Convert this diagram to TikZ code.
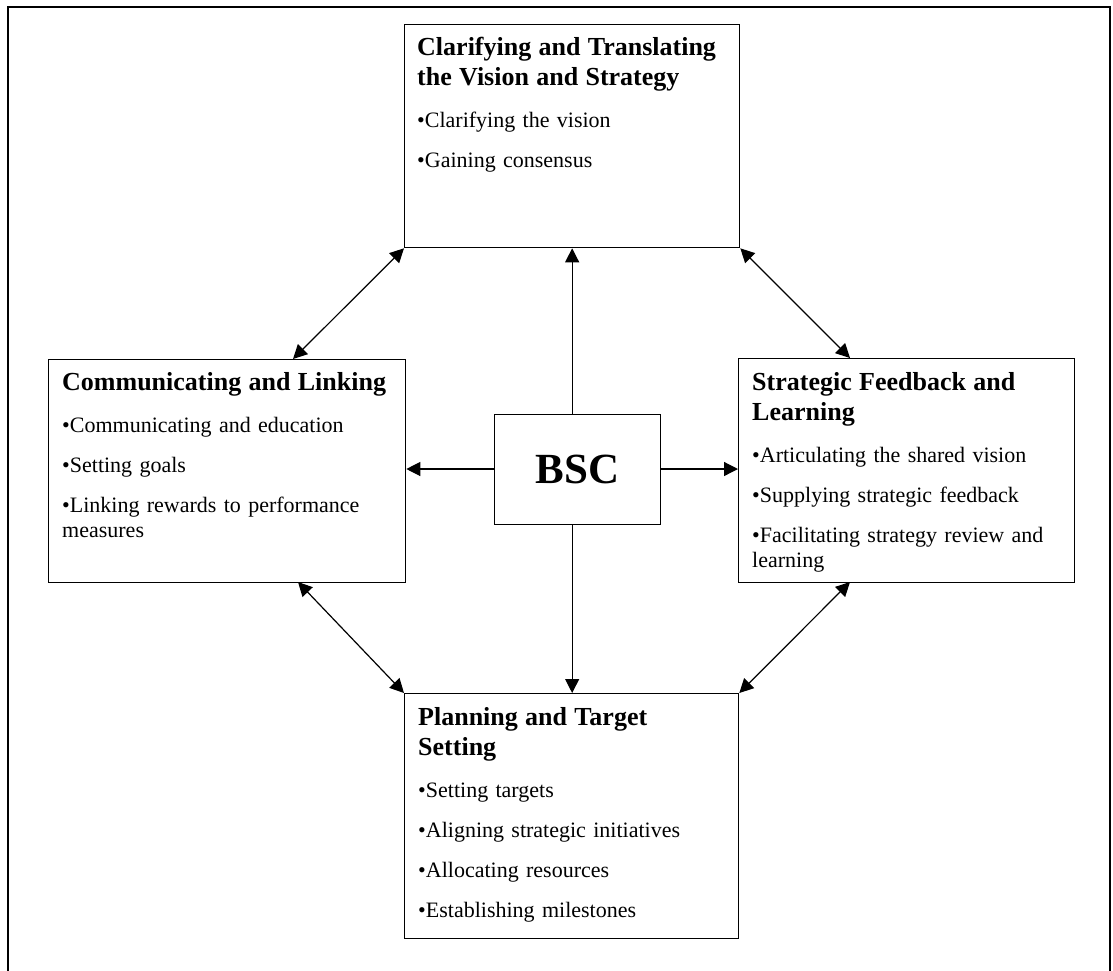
\documentclass[tikz,border=0pt]{standalone}
\usepackage{fontspec}
\setmainfont{Liberation Serif}
\usetikzlibrary{arrows.meta}
\setlength\parindent{0pt}
\begin{document}
\begin{tikzpicture}[x=1pt,y=-1pt,
  panel/.style={draw, line width=1.3pt, anchor=north west, inner sep=0pt},
  blurb/.style={anchor=base west, inner sep=0pt, text width=340pt, align=left,
    font=\fontsize{22}{25}\selectfont},
  link/.style={line width=1.2pt, -{Triangle[length=14pt,width=14pt]}},
  twoway/.style={line width=1.2pt, {Triangle[length=14pt,width=14pt]}-{Triangle[length=14pt,width=14pt]}},
]
\newcommand{\headline}[1]{{\fontsize{26}{30}\selectfont\bfseries #1\par}\vspace{17pt}}
\newcommand{\gap}{\par\vspace{15pt}}
\useasboundingbox (0,0) rectangle (1113,970);

% outer frame, open at the bottom
\draw[line width=2.6pt] (8,975) -- (8,7) -- (1110,7) -- (1110,975);

% the four perspectives and the centre
\node[panel, minimum width=335pt, minimum height=223pt] (top) at (404,24) {};
\node[panel, minimum width=357pt, minimum height=223pt] (left) at (48,359) {};
\node[panel, minimum width=336pt, minimum height=224pt] (right) at (738,358) {};
\node[panel, minimum width=334pt, minimum height=245pt] (bottom) at (404,693) {};
\node[panel, minimum width=166pt, minimum height=110pt] (bsc) at (494,414) {};
\node[font=\fontsize{43}{43}\selectfont\bfseries, inner sep=0pt] (bsclabel) at (bsc.center) {BSC};

% texts
\node[blurb] (toptext) at (417,55) {%
  \headline{Clarifying and Translating\\the Vision and Strategy}%
  \textbullet Clarifying the vision\gap
  \textbullet Gaining consensus};
\node[blurb] (lefttext) at (62,390) {%
  \headline{Communicating and Linking}%
  \textbullet Communicating and education\gap
  \textbullet Setting goals\gap
  \textbullet Linking rewards to performance\\measures};
\node[blurb] (righttext) at (752,390) {%
  \headline{Strategic Feedback and\\Learning}%
  \textbullet Articulating the shared vision\gap
  \textbullet Supplying strategic feedback\gap
  \textbullet Facilitating strategy review and\\learning};
\node[blurb] (bottomtext) at (418,725) {%
  \headline{Planning and Target\\Setting}%
  \textbullet Setting targets\gap
  \textbullet Aligning strategic initiatives\gap
  \textbullet Allocating resources\gap
  \textbullet Establishing milestones};

% spokes from the centre
\coordinate (bscn) at (571,414);
\coordinate (bscs) at (571,524);
\draw[link] (bsc.north -| top.south) -- (top.south);
\draw[link] (bsc.south -| top.south) -- (bottom.north -| top.south);
\draw[link] (bsc.west |- 0,469) -- (left.east |- 0,469);
\draw[link] (bsc.east |- 0,469) -- (right.west |- 0,469);

% links between neighbouring perspectives
\coordinate (ln) at (293,359);
\coordinate (ls) at (298,582);
\coordinate (rn) at (850,358);
\coordinate (rs) at (850,582);
\draw[twoway] (ln) -- (top.south west);
\draw[twoway] (top.south east) -- (rn);
\draw[twoway] (ls) -- (bottom.north west);
\draw[twoway] (rs) -- (bottom.north east);
\end{tikzpicture}
\end{document}
